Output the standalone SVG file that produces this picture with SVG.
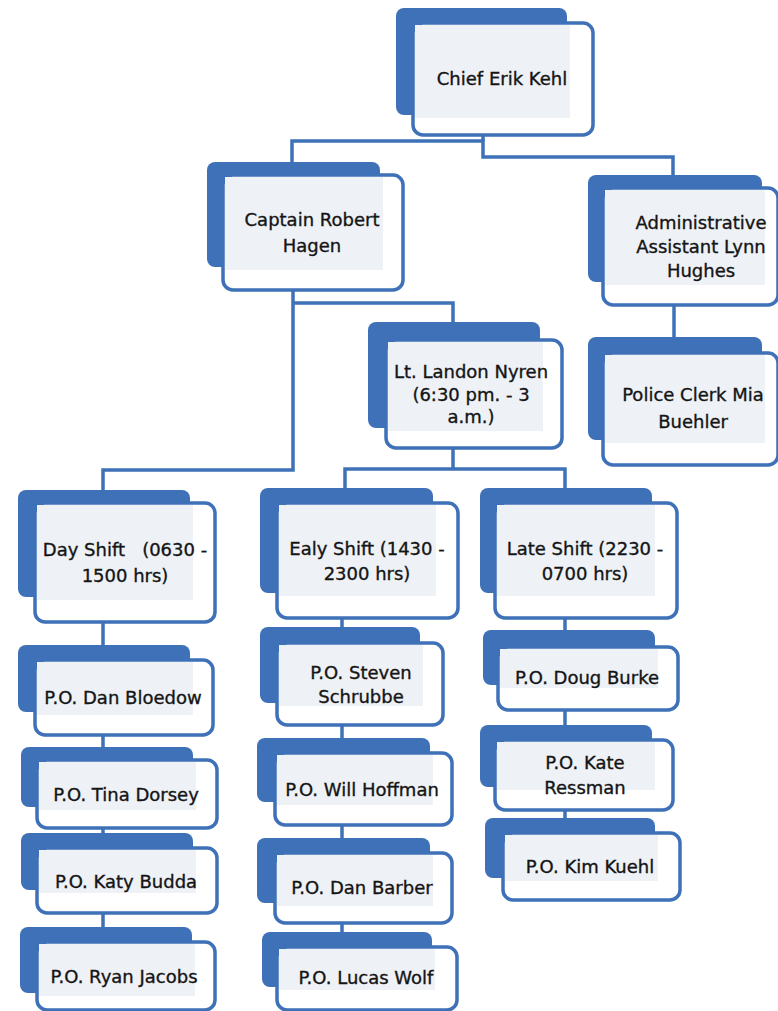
<svg xmlns="http://www.w3.org/2000/svg" width="778" height="1011" viewBox="0 0 778 1011">
<style>
.back{fill:#3e71b7}
.front{fill:#ffffff;stroke:#3e71b7;stroke-width:3.5}
.panel{fill:#eef1f6}
.conn{fill:none;stroke:#3e71b7;stroke-width:3.5}
text{font-family:"DejaVu Sans","Liberation Sans",sans-serif;font-size:18px;fill:#151515;stroke:#151515;stroke-width:0.35;text-anchor:middle}
</style>
<rect width="778" height="1011" fill="#ffffff"/>
<g id="connectors">
<path class="conn" d="M292 162 V141 H483 V157 H673 V175"/>
<path class="conn" d="M483 135 V141"/>
<path class="conn" d="M674 305 V337"/>
<path class="conn" d="M293 290 V470 H103 V490"/>
<path class="conn" d="M293 303 H453 V322"/>
<path class="conn" d="M453 447 V469"/>
<path class="conn" d="M345 488 V469 H565 V488"/>
<path class="conn" d="M103 622 V645 M103 735 V747 M103 828 V833 M103 913 V927"/>
<path class="conn" d="M342 618 V627 M342 725 V738 M342 825 V838 M342 923 V932"/>
<path class="conn" d="M565 618 V630 M565 710 V725 M565 810 V818"/>
</g>
<g id="chief">
<rect class="back" x="396" y="8" width="171" height="107" rx="8"/>
<rect class="front" x="413" y="23" width="180" height="112" rx="10"/>
<rect class="panel" x="415" y="25" width="155" height="93"/>
<text x="502" y="85">Chief Erik Kehl</text>
</g>
<g id="captain">
<rect class="back" x="207" y="162" width="173" height="105" rx="8"/>
<rect class="front" x="223" y="175" width="180" height="115" rx="10"/>
<rect class="panel" x="225" y="177" width="158" height="93"/>
<text x="312" y="226">Captain Robert</text>
<text x="312" y="252">Hagen</text>
</g>
<g id="admin">
<rect class="back" x="588" y="175" width="174" height="107" rx="8"/>
<rect class="front" x="603" y="188" width="175" height="117" rx="10"/>
<rect class="panel" x="605" y="190" width="160" height="95"/>
<text x="701" y="229">Administrative</text>
<text x="701" y="253">Assistant Lynn</text>
<text x="701" y="277">Hughes</text>
</g>
<g id="clerk">
<rect class="back" x="588" y="337" width="174" height="103" rx="8"/>
<rect class="front" x="603" y="353" width="175" height="112" rx="10"/>
<rect class="panel" x="605" y="355" width="160" height="88"/>
<text x="693" y="401">Police Clerk Mia</text>
<text x="693" y="428">Buehler</text>
</g>
<g id="lt">
<rect class="back" x="368" y="322" width="172" height="106" rx="8"/>
<rect class="front" x="386" y="340" width="176" height="108" rx="10"/>
<rect class="panel" x="388" y="342" width="155" height="89"/>
<text x="471" y="378">Lt. Landon Nyren</text>
<text x="471" y="401">(6:30 pm. - 3</text>
<text x="471" y="423">a.m.)</text>
</g>
<g id="day-shift">
<rect class="back" x="18" y="490" width="172" height="107" rx="8"/>
<rect class="front" x="35" y="503" width="180" height="119" rx="10"/>
<rect class="panel" x="37" y="505" width="156" height="95"/>
<text x="125" y="556" xml:space="preserve">Day Shift   (0630 -</text>
<text x="125" y="582">1500 hrs)</text>
</g>
<g id="early-shift">
<rect class="back" x="260" y="488" width="173" height="105" rx="8"/>
<rect class="front" x="277" y="503" width="181" height="115" rx="10"/>
<rect class="panel" x="279" y="505" width="157" height="91"/>
<text x="367" y="555">Ealy Shift (1430 -</text>
<text x="367" y="580">2300 hrs)</text>
</g>
<g id="late-shift">
<rect class="back" x="480" y="488" width="172" height="105" rx="8"/>
<rect class="front" x="495" y="503" width="182" height="115" rx="10"/>
<rect class="panel" x="497" y="505" width="158" height="91"/>
<text x="585" y="555">Late Shift (2230 -</text>
<text x="585" y="580">0700 hrs)</text>
</g>
<g id="po-dan-bloedow">
<rect class="back" x="18" y="645" width="172" height="67" rx="8"/>
<rect class="front" x="35" y="660" width="178" height="75" rx="10"/>
<rect class="panel" x="37" y="662" width="156" height="53"/>
<text x="123" y="704">P.O. Dan Bloedow</text>
</g>
<g id="po-tina-dorsey">
<rect class="back" x="21" y="747" width="172" height="60" rx="8"/>
<rect class="front" x="37" y="760" width="180" height="68" rx="10"/>
<rect class="panel" x="39" y="762" width="157" height="48"/>
<text x="126" y="801">P.O. Tina Dorsey</text>
</g>
<g id="po-katy-budda">
<rect class="back" x="21" y="833" width="172" height="57" rx="8"/>
<rect class="front" x="37" y="848" width="180" height="65" rx="10"/>
<rect class="panel" x="39" y="850" width="157" height="43"/>
<text x="126" y="888">P.O. Katy Budda</text>
</g>
<g id="po-ryan-jacobs">
<rect class="back" x="20" y="927" width="172" height="66" rx="8"/>
<rect class="front" x="37" y="942" width="178" height="68" rx="10"/>
<rect class="panel" x="39" y="944" width="156" height="52"/>
<text x="124" y="983">P.O. Ryan Jacobs</text>
</g>
<g id="po-steven-schrubbe">
<rect class="back" x="260" y="627" width="160" height="76" rx="8"/>
<rect class="front" x="277" y="643" width="166" height="82" rx="10"/>
<rect class="panel" x="279" y="645" width="144" height="61"/>
<text x="361" y="679">P.O. Steven</text>
<text x="361" y="703">Schrubbe</text>
</g>
<g id="po-will-hoffman">
<rect class="back" x="257" y="738" width="173" height="64" rx="8"/>
<rect class="front" x="275" y="753" width="177" height="72" rx="10"/>
<rect class="panel" x="277" y="755" width="156" height="50"/>
<text x="362" y="796">P.O. Will Hoffman</text>
</g>
<g id="po-dan-barber">
<rect class="back" x="257" y="838" width="173" height="65" rx="8"/>
<rect class="front" x="275" y="853" width="177" height="70" rx="10"/>
<rect class="panel" x="277" y="855" width="156" height="51"/>
<text x="362" y="894">P.O. Dan Barber</text>
</g>
<g id="po-lucas-wolf">
<rect class="back" x="262" y="932" width="170" height="55" rx="8"/>
<rect class="front" x="277" y="947" width="180" height="63" rx="10"/>
<rect class="panel" x="279" y="949" width="156" height="41"/>
<text x="366" y="984">P.O. Lucas Wolf</text>
</g>
<g id="po-doug-burke">
<rect class="back" x="483" y="630" width="172" height="55" rx="8"/>
<rect class="front" x="498" y="647" width="180" height="63" rx="10"/>
<rect class="panel" x="500" y="649" width="158" height="39"/>
<text x="587" y="684">P.O. Doug Burke</text>
</g>
<g id="po-kate-ressman">
<rect class="back" x="480" y="725" width="172" height="62" rx="8"/>
<rect class="front" x="495" y="740" width="178" height="70" rx="10"/>
<rect class="panel" x="497" y="742" width="158" height="48"/>
<text x="585" y="769">P.O. Kate</text>
<text x="585" y="794">Ressman</text>
</g>
<g id="po-kim-kuehl">
<rect class="back" x="485" y="818" width="170" height="60" rx="8"/>
<rect class="front" x="503" y="833" width="177" height="67" rx="10"/>
<rect class="panel" x="505" y="835" width="153" height="46"/>
<text x="590" y="873">P.O. Kim Kuehl</text>
</g>
</svg>
